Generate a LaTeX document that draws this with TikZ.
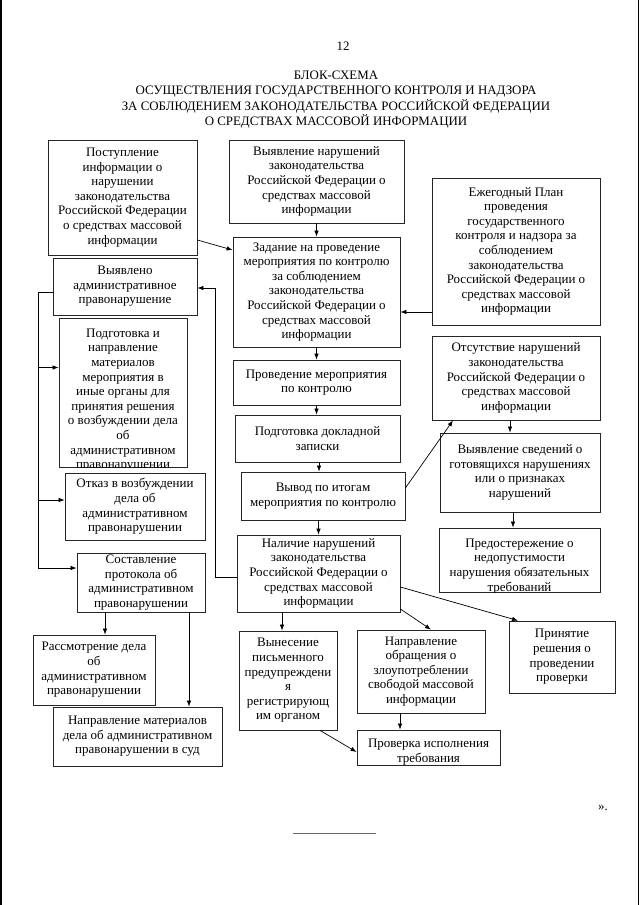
\documentclass[tikz,border=0pt]{standalone}
\usepackage{fontspec}
\setmainfont{Liberation Serif}
\usetikzlibrary{arrows.meta,calc}
\begin{document}
\begin{tikzpicture}[x=1pt,y=-1pt,
  box/.style={draw=black!85,line width=0.8pt,inner sep=0pt,align=center,
    font=\fontsize{13}{14.6}\selectfont},
  txt/.style={inner sep=0pt,align=center,font=\fontsize{13}{14.6}\selectfont},
  ttl/.style={inner sep=0pt,align=center,font=\fontsize{12.9}{15.5}\selectfont},
  arr/.style={line width=0.7pt,-{Latex[length=6pt,width=4.5pt]}},
  ln/.style={line width=0.7pt}]
\useasboundingbox[fill=white] (0,0) rectangle (640,905);
\newcommand\bx[6]{\node[box,minimum width={(#4-#2)*1pt},minimum height={(#5-#3)*1pt}] (#1) at ({(#2+#4)/2},{(#3+#5)/2}) {#6};}
% page edges
\draw[line width=1.5pt] (0.8,0) -- (0.8,905);
\draw[line width=1.5pt] (638.5,0) -- (638.5,905);
% header
\node[ttl] (pnum) at (343,46) {12};
\node[ttl,anchor=north] (title) at (336,70.5) {БЛОК-СХЕМА\\ОСУЩЕСТВЛЕНИЯ ГОСУДАРСТВЕННОГО КОНТРОЛЯ И НАДЗОРА\\ЗА СОБЛЮДЕНИЕМ ЗАКОНОДАТЕЛЬСТВА РОССИЙСКОЙ ФЕДЕРАЦИИ\\О СРЕДСТВАХ МАССОВОЙ ИНФОРМАЦИИ};
% boxes
\bx{A}{48}{140}{197}{255}{Поступление\\информации о\\нарушении\\законодательства\\Российской Федерации\\о средствах массовой\\информации}
\bx{B}{229}{140}{404}{223}{Выявление нарушений\\законодательства\\Российской Федерации о\\средствах массовой\\информации}
\bx{C}{233}{237}{400}{347}{Задание на проведение\\мероприятия по контролю\\за соблюдением\\законодательства\\Российской Федерации о\\средствах массовой\\информации}
\bx{D}{432}{178}{600}{325}{Ежегодный План\\проведения\\государственного\\контроля и надзора за\\соблюдением\\законодательства\\Российской Федерации о\\средствах массовой\\информации}
\bx{E}{53}{258}{197}{315}{Выявлено\\административное\\правонарушение}
\bx{F}{59}{318}{187}{467}{}
\begin{scope}
\clip (F.south west) rectangle (F.north east);
\node[txt,anchor=north] (Ft) at ([yshift=-11pt]F.north) {Подготовка и\\направление\\материалов\\мероприятия в\\иные органы для\\принятия решения\\о возбуждении дела\\об\\административном\\правонарушении};
\end{scope}
\bx{G}{65}{473}{205}{540}{Отказ в возбуждении\\дела об\\административном\\правонарушении}
\bx{H}{77}{553}{205}{612}{Составление\\протокола об\\административном\\правонарушении}
\bx{I}{233}{360}{400}{405}{Проведение мероприятия\\по контролю}
\bx{J}{235}{415}{400}{462}{Подготовка докладной\\записки}
\bx{K}{241}{472}{405}{520}{Вывод по итогам\\мероприятия по контролю}
\bx{L}{432}{336}{600}{420}{Отсутствие нарушений\\законодательства\\Российской Федерации о\\средствах массовой\\информации}
\bx{M}{440}{433}{600}{512}{Выявление сведений о\\готовящихся нарушениях\\или о признаках\\нарушений}
\bx{N}{439}{528}{600}{592}{}
\begin{scope}
\clip (N.south west) rectangle (N.north east);
\node[txt,anchor=north] (Nt) at ([yshift=-11pt]N.north) {Предостережение о\\недопустимости\\нарушения обязательных\\требований};
\end{scope}
\bx{O}{237}{535}{400}{612}{Наличие нарушений\\законодательства\\Российской Федерации о\\средствах массовой\\информации}
\bx{P}{509}{621}{615}{693}{Принятие\\решения о\\проведении\\проверки}
\bx{Q}{357}{630}{485}{713}{Направление\\обращения о\\злоупотреблении\\свободой массовой\\информации}
\bx{R}{239}{631}{337}{730}{Вынесение\\письменного\\предупреждени\\я\\регистрирующ\\им органом}
\bx{S}{357}{730}{500}{765}{}
\begin{scope}
\clip (S.south west) rectangle (S.north east);
\node[txt,anchor=north] (St) at ([yshift=-9.5pt]S.north) {Проверка исполнения\\требования};
\end{scope}
\bx{T}{33}{635}{155}{705}{Рассмотрение дела\\об\\административном\\правонарушении}
\bx{U}{53}{707}{222}{766}{Направление материалов\\дела об административном\\правонарушении в суд}
% connectors
\draw[arr] (B.south) -- (C.north);
\draw[arr] ([yshift=-42.5pt]A.east) -- ([yshift=42pt]C.west);
\draw[arr] ([yshift=-60.5pt]D.west) coordinate (d1) -- (d1 -| C.east);
\draw[arr] (C.south) -- (I.north);
\draw[arr] (I.south) -- (I.south |- J.north);
\draw[arr] ([xshift=-4pt]K.north |- J.south) coordinate (j1) -- (j1 |- K.north);
\draw[arr] (K.south -| O.north) -- (O.north);
\draw[arr] ([yshift=8pt]K.east) -- ([xshift=-63pt]L.south);
\draw[arr] ([xshift=-6pt]L.south) coordinate (l1) -- (l1 |- M.north);
\draw[arr] ([xshift=-7pt]M.south) coordinate (m1) -- (m1 |- N.north);
\draw[arr] ([yshift=-13.5pt]O.east) -- ([xshift=-44pt]P.north);
\draw[arr] ([yshift=-35.5pt]O.east) -- ([xshift=10pt]Q.north);
\draw[arr] ([xshift=-36.5pt]O.south) coordinate (o1) -- (o1 |- R.north);
\draw[arr] ([xshift=-21pt]Q.south) coordinate (q1) -- (q1 |- S.north);
\draw[arr] ([xshift=32pt]R.south) -- ([yshift=-4.5pt]S.west);
\draw[arr] ([xshift=-36pt]H.south) coordinate (h1) -- (h1 |- T.north);
\draw[arr] ([xshift=48pt]H.south) coordinate (h2) -- (h2 |- U.north);
% left bus
\coordinate (busTop) at (38,292);
\coordinate (busBot) at (38,568);
\coordinate (fIn) at ([yshift=25pt]F.west);
\coordinate (gIn) at ([yshift=6.5pt]G.west);
\draw[ln] (E.west |- busTop) -- (busTop) -- (busBot);
\draw[arr] (busTop |- fIn) -- (fIn);
\draw[arr] (busTop |- gIn) -- (gIn);
\draw[arr] (busBot) -- (busBot -| H.west);
% right bus
\coordinate (rbTop) at (215,288);
\draw[ln] ([yshift=-3.5pt]O.west) coordinate (o2) -- (o2 -| rbTop) -- (rbTop);
\draw[arr] (rbTop) -- (rbTop -| E.east);
% footer
\node[ttl] (quote) at (603,808) {».};
\coordinate (fl1) at (293,833);
\coordinate (fl2) at (376,833);
\draw[line width=0.8pt,black!60] (fl1) -- (fl2);
\end{tikzpicture}
\end{document}
